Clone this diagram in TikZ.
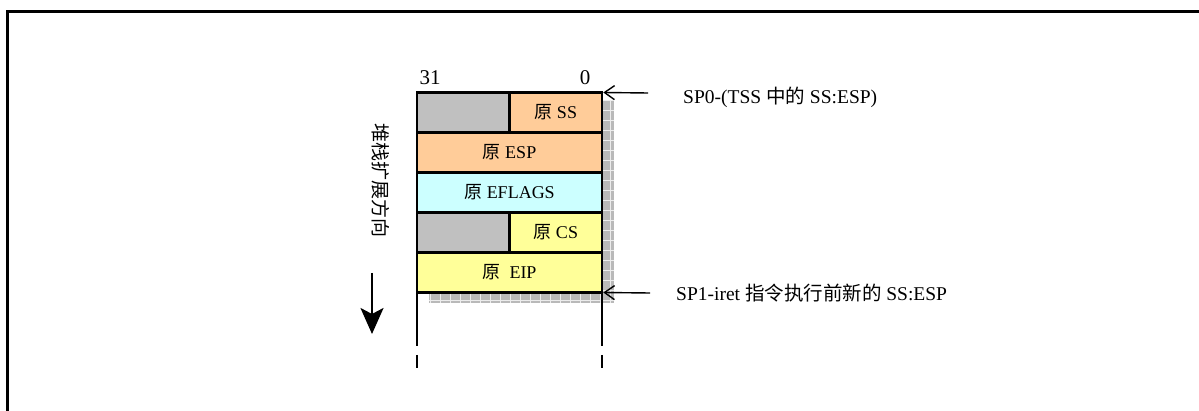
\documentclass[tikz,border=0pt]{standalone}
\usepackage{fontspec}
\setmainfont{Liberation Serif}
\newfontfamily\cjk{Noto Sans CJK SC}
\usetikzlibrary{arrows.meta}
\definecolor{peach}{RGB}{255,204,153}
\definecolor{lcyan}{RGB}{204,255,255}
\definecolor{lyellow}{RGB}{255,255,153}
\definecolor{cellgray}{RGB}{192,192,192}
\definecolor{shadegray}{RGB}{185,185,185}
\tikzset{
  cell/.style={draw=black, line width=2.6pt, minimum height=40pt, inner sep=0pt, outer sep=0pt, font=\fontsize{18}{20}\selectfont},
  fullcell/.style={cell, minimum width=185pt},
  halfcell/.style={cell, minimum width=92.5pt},
  lbl/.style={font=\fontsize{19.5}{21}\selectfont, inner sep=0pt, anchor=west},
  ptr/.style={line width=1.4pt, -{Straight Barb[length=10pt,width=14pt]}},
  frame/.style={line width=2.4pt},
  vline/.style={line width=2.6pt}
}
\begin{document}
\begin{tikzpicture}[x=1pt,y=-1pt]
\useasboundingbox (0,0) rectangle (1199,411);
% outer frame (partial)
\draw[frame] (7.5,420) -- (7.5,11.5) -- (1210,11.5);
% shadow
\fill[shadegray] (603,100) rectangle (614,303);
\fill[shadegray] (429,294) rectangle (614,303);
\begin{scope}
\clip (603,100) rectangle (614,303) (429,294) rectangle (614,303);
\draw[white!85!gray, line width=0.5pt, step=10pt] (420,90) grid (620,310);
\end{scope}
% cells
\node[halfcell, fill=cellgray] (g1) at (463.25,112.5) {};
\node[halfcell, fill=peach] (ss) at (555.75,112.5) {\cjk 原\rmfamily{} SS};
\node[fullcell, fill=peach] (esp) at (509.5,152.5) {\cjk 原\rmfamily{} ESP};
\node[fullcell, fill=lcyan] (efl) at (509.5,192.5) {\cjk 原\rmfamily{} EFLAGS};
\node[halfcell, fill=cellgray] (g2) at (463.25,232.5) {};
\node[halfcell, fill=lyellow] (cs) at (555.75,232.5) {\cjk 原\rmfamily{} CS};
\node[fullcell, fill=lyellow] (eip) at (509.5,272.5) {\cjk 原\rmfamily{}\ \ EIP};
% extension lines
\coordinate (la) at (417,346);
\coordinate (lb) at (417,355);
\coordinate (lc) at (417,368);
\coordinate (ra) at (602,346);
\coordinate (rb) at (602,355);
\coordinate (rc) at (602,368);
\draw[vline] (eip.south west) -- (la);
\draw[vline] (lb) -- (lc);
\draw[vline] (eip.south east) -- (ra);
\draw[vline] (rb) -- (rc);
% bit labels
\node[font=\fontsize{21}{23}\selectfont, inner sep=0pt] (b31) at (430,78) {31};
\node[font=\fontsize{21}{23}\selectfont, inner sep=0pt] (b0) at (585,78) {0};
% pointers
\coordinate (p0) at (648,93);
\coordinate (p1) at (650,293);
\draw[ptr] (p0) -- ([xshift=1.3pt]ss.north east);
\draw[ptr] (p1) -- ([xshift=1.3pt]eip.south east);
\node[lbl] (t0) at (683,97) {SP0-(TSS {\cjk 中的} SS:ESP)};
\node[lbl] (t1) at (676,293) {SP1-iret {\cjk 指令执行前新的} SS:ESP};
% direction
\node[font=\cjk\fontsize{19}{21}\selectfont, rotate=-90, inner sep=0pt] (dir) at (381,181) {堆栈扩展方向};
\coordinate (d0) at (372,273);
\coordinate (d1) at (372,334);
\draw[line width=2.4pt, -{Stealth[length=26pt,width=23pt,inset=6pt]}] (d0) -- (d1);
\end{tikzpicture}
\end{document}
